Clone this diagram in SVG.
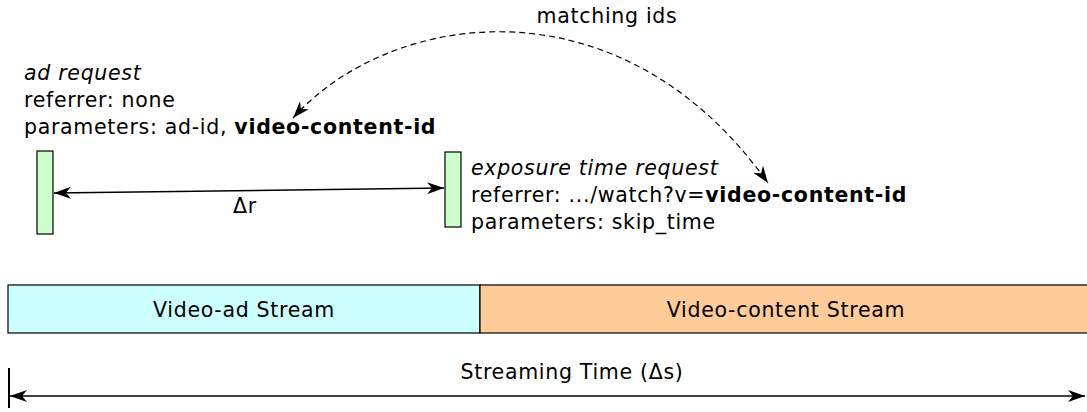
<svg xmlns="http://www.w3.org/2000/svg" width="1087" height="412" viewBox="0 0 1087 412">
  <style>
    text { font-family: "DejaVu Sans", "Liberation Sans", sans-serif; font-size: 20.5px; letter-spacing: 0.7px; fill: #000; }
    .it { font-style: italic; }
    .b { font-weight: bold; }
    .mid { text-anchor: middle; }
    .req { fill: #ccffcc; stroke: #000; stroke-width: 1.2; }
    .line { fill: none; stroke: #000; stroke-width: 1.5; }
    .dash { fill: none; stroke: #000; stroke-width: 1.2; stroke-dasharray: 6 4; }
  </style>
  <defs>
    <marker id="ah" viewBox="0 0 17 12" refX="17" refY="6" markerWidth="17" markerHeight="12" markerUnits="userSpaceOnUse" orient="auto-start-reverse">
      <path d="M0,0 L17,6 L0,12 L5,6 Z" fill="#000"/>
    </marker>
  </defs>

  <!-- ad request -->
  <g id="ad-request">
    <text class="it" x="24" y="80">ad request</text>
    <text x="24" y="107">referrer: none</text>
    <text x="24" y="134">parameters: ad-id, <tspan class="b">video-content-id</tspan></text>
    <rect class="req" x="37" y="151" width="16" height="83"/>
  </g>

  <!-- exposure time request -->
  <g id="exposure-request">
    <rect class="req" x="445" y="152" width="16" height="75"/>
    <text class="it" x="471" y="175">exposure time request</text>
    <text x="471" y="202">referrer: .../watch?v=<tspan class="b">video-content-id</tspan></text>
    <text x="471" y="229">parameters: skip_time</text>
  </g>

  <!-- stream bars -->
  <g id="ad-stream">
    <rect x="8" y="285" width="472" height="48" fill="#ccffff" stroke="#000" stroke-width="1.2"/>
    <text class="mid" x="244" y="317">Video-ad Stream</text>
  </g>
  <g id="content-stream">
    <rect x="480" y="285" width="612" height="48" fill="#ffcc99" stroke="#000" stroke-width="1.2"/>
    <text class="mid" x="786" y="317">Video-content Stream</text>
  </g>

  <!-- connectors -->
  <g id="connectors">
    <path class="line" d="M54,193 L444,188" marker-start="url(#ah)" marker-end="url(#ah)"/>
    <text class="mid" x="245" y="213">Δr</text>

    <path class="dash" d="M293,118 C390,10 620,-25 768,183" marker-start="url(#ah)" marker-end="url(#ah)"/>
    <text class="mid" x="607" y="23">matching ids</text>

    <line x1="9" y1="368" x2="9" y2="408" stroke="#000" stroke-width="2"/>
    <path class="line" d="M10,396 L1085,396" marker-start="url(#ah)" marker-end="url(#ah)"/>
    <text class="mid" x="572" y="379">Streaming Time (Δs)</text>
  </g>
</svg>
